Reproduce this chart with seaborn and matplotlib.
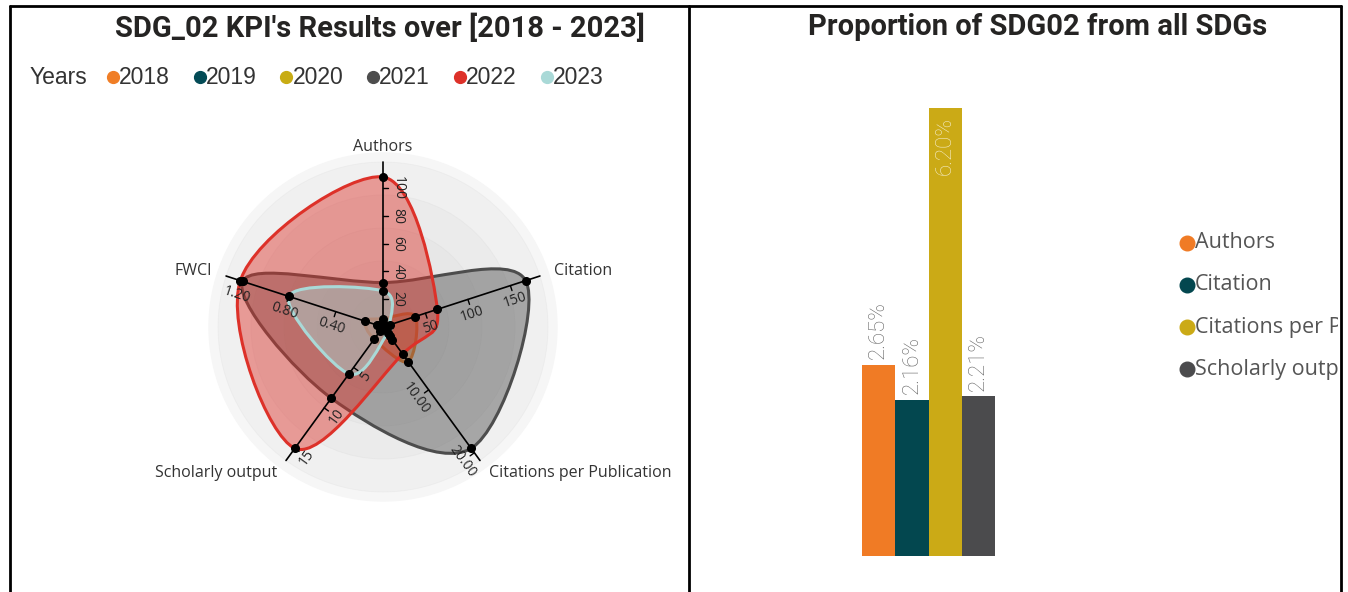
import numpy as np
import pandas as pd
import matplotlib.pyplot as plt
import seaborn as sns
from matplotlib.path import Path
from matplotlib.patches import PathPatch, Circle
from matplotlib.lines import Line2D

# ---- radar data: KPI values per year ----
kpis = ["Authors", "Citation", "Citations per Publication", "Scholarly output", "FWCI"]
years = ["2018", "2019", "2020", "2021", "2022", "2023"]
authors = [6, 3, 2, 32, 108, 26]
citation = [38, 4, 3, 168, 64, 8]
cites_per_pub = [5.5, 2.0, 1.5, 19.3, 4.3, 1.0]
scholarly_output = [1.5, 0.5, 0.4, 8.8, 15.0, 5.8]
fwci = [0.15, 0.05, 0.04, 1.19, 1.21, 0.80]
year_colors = ["#f07e26", "#034b56", "#c8ac14", "#4d4d4d", "#dd3129", "#a9d9d7"]

# tick values drawn on each spoke
authors_ticks = [20, 40, 60, 80, 100]
citation_ticks = [50, 100, 150]
cpp_ticks = [10, 20]
so_ticks = [5, 10, 15]
fwci_ticks = [0.4, 0.8, 1.2]
tick_fmt = ["{:.0f}", "{:.0f}", "{:.2f}", "{:.0f}", "{:.2f}"]

# ---- bar data: share of SDG02 in all SDGs ----
share_kpis = ["Authors", "Citation", "Citations per Publication", "Scholarly output"]
share_pct = [2.65, 2.16, 6.20, 2.21]
share_colors = ["#f07b25", "#03474f", "#cbaa16", "#4b4b4d"]

sns.set_style("white")
plt.rcParams["font.family"] = ["Open Sans", "DejaVu Sans"]

W, H = 1348, 592
fig = plt.figure(figsize=(W / 100, H / 100), dpi=100)


def fx(px):
    return px / W


def fy(py):
    return 1 - py / H


def closed_curve(x, y):
    # closed catmull-rom outline as cubic bezier segments
    pts = np.column_stack([x, y])
    n = len(pts)
    verts = [pts[0]]
    codes = [Path.MOVETO]
    for k in range(n):
        p0, p1, p2, p3 = pts[(k - 1) % n], pts[k], pts[(k + 1) % n], pts[(k + 2) % n]
        verts += [p1 + (p2 - p0) / 6, p2 - (p3 - p1) / 6, p2]
        codes += [Path.CURVE4] * 3
    verts.append(pts[0])
    codes.append(Path.CLOSEPOLY)
    return Path(verts, codes)


# ---------------- left panel: radar ----------------
fig.text(fx(380), fy(28), "SDG_02 KPI's Results over [2018 - 2023]", ha="center", va="center",
         fontsize=21, fontweight="bold", family="Roboto", color="#252423")
fig.text(fx(30), fy(77), "Years", ha="left", va="center", fontsize=16.5,
         family="Liberation Sans", color="#333333")
for k, yr in enumerate(years):
    cx = 113 + 86.7 * k
    fig.add_artist(Line2D([fx(cx)], [fy(77)], marker="o", ms=8.5, color=year_colors[k],
                          transform=fig.transFigure))
    fig.text(fx(cx + 6), fy(77), yr, ha="left", va="center", fontsize=16.5,
             family="Liberation Sans", color="#333333")

df = pd.DataFrame({"Authors": authors, "Citation": citation,
                   "Citations per Publication": cites_per_pub,
                   "Scholarly output": scholarly_output, "FWCI": fwci}, index=years)
scaled = df / df.max()
theta = np.deg2rad(90 - 72 * np.arange(len(kpis)))
ticks = [authors_ticks, citation_ticks, cpp_ticks, so_ticks, fwci_ticks]

rax = fig.add_axes([fx(183), 65 / H, 400 / W, 400 / H])
rax.set_xlim(-4 / 3, 4 / 3)
rax.set_ylim(-4 / 3, 4 / 3)
rax.axis("off")

rax.add_patch(Circle((0, 0), 1.16, color="#f6f6f6", zorder=0))
for k in range(5, 0, -1):
    rax.add_patch(Circle((0, 0), 1.1 * k / 5, facecolor="#d2d2d2", edgecolor="#c4c4c4",
                         lw=0.6, alpha=0.15, zorder=0.5))

for i, yr in enumerate(years):
    r = scaled.loc[yr].to_numpy()
    x, y = r * np.cos(theta), r * np.sin(theta)
    path = closed_curve(x, y)
    rax.add_patch(PathPatch(path, facecolor=year_colors[i], alpha=0.45, lw=0, zorder=2 + i * 0.1))
    rax.add_patch(PathPatch(path, facecolor="none", edgecolor=year_colors[i], lw=2.2,
                            zorder=2.05 + i * 0.1))
    rax.plot(x, y, "o", color="black", ms=5.5, zorder=6)

for j, kpi in enumerate(kpis):
    c, s = np.cos(theta[j]), np.sin(theta[j])
    rax.plot([0, 1.1 * c], [0, 1.1 * s], color="black", lw=1.2, zorder=5)
    side = theta[j] - np.pi / 2 if c >= -1e-9 else theta[j] + np.pi / 2
    pc, ps = np.cos(side), np.sin(side)
    rot = ((round(np.degrees(theta[j])) + 90) % 180) - 90
    for t in ticks[j]:
        rr = t / df[kpi].max()
        bx, by = rr * c, rr * s
        rax.plot([bx, bx + 0.035 * pc], [by, by + 0.035 * ps], color="black", lw=1, zorder=5)
        rax.text(bx + 0.1 * pc, by + 0.1 * ps, tick_fmt[j].format(t), rotation=rot,
                 rotation_mode="anchor", ha="center", va="center", fontsize=10,
                 color="#222222", zorder=7)
    ha = "left" if c > 0.1 else ("right" if c < -0.1 else "center")
    rax.text(1.2 * c, 1.2 * s, kpi, ha=ha, va="center", fontsize=11.5, color="#333333")

# ---------------- right panel: bars ----------------
fig.text(fx(1038), fy(27), "Proportion of SDG02 from all SDGs", ha="center", va="center",
         fontsize=21, fontweight="bold", family="Roboto", color="#252423")

bax = fig.add_axes([fx(862), 36 / H, 133 / W, 448 / H])
sns.barplot(x=share_kpis, y=share_pct, hue=share_kpis, palette=share_colors, width=1,
            saturation=1, legend=False, linewidth=0, ax=bax)
bax.set_xlim(-0.5, 3.5)
bax.set_ylim(0, 6.2)
bax.axis("off")
for i, v in enumerate(share_pct):
    if v > 5:
        bax.text(i, v - 0.12, f"{v:.2f}%", rotation=90, ha="center", va="top",
                 fontsize=16, family="Roboto", fontweight="light", color="#f4ecc6")
    else:
        bax.text(i, v + 0.08, f"{v:.2f}%", rotation=90, ha="center", va="bottom",
                 fontsize=16, family="Roboto", fontweight="light", color="#666666")

lax = fig.add_axes([fx(1175), fy(400), (1338 - 1175) / W, (400 - 210) / H])
lax.set_xlim(1175, 1338)
lax.set_ylim(400, 210)
lax.axis("off")
for k, lab in enumerate(share_kpis):
    yy = 243 + 42 * k
    lax.plot([1187], [yy], "o", ms=10.5, color=share_colors[k])
    lax.text(1195, yy, lab, ha="left", va="center", fontsize=15.5, color="#555555", clip_on=True)

# panel frames
frame = dict(transform=fig.transFigure, color="black", lw=2)
fig.add_artist(Line2D([fx(10), fx(10)], [fy(6), 0], **frame))
fig.add_artist(Line2D([fx(10), fx(1341)], [fy(6), fy(6)], **frame))
fig.add_artist(Line2D([fx(1341), fx(1341)], [fy(6), 0], **frame))
fig.add_artist(Line2D([fx(689), fx(689)], [fy(6), 0], **frame))

fig.savefig("out.png", dpi=100, facecolor="white")
